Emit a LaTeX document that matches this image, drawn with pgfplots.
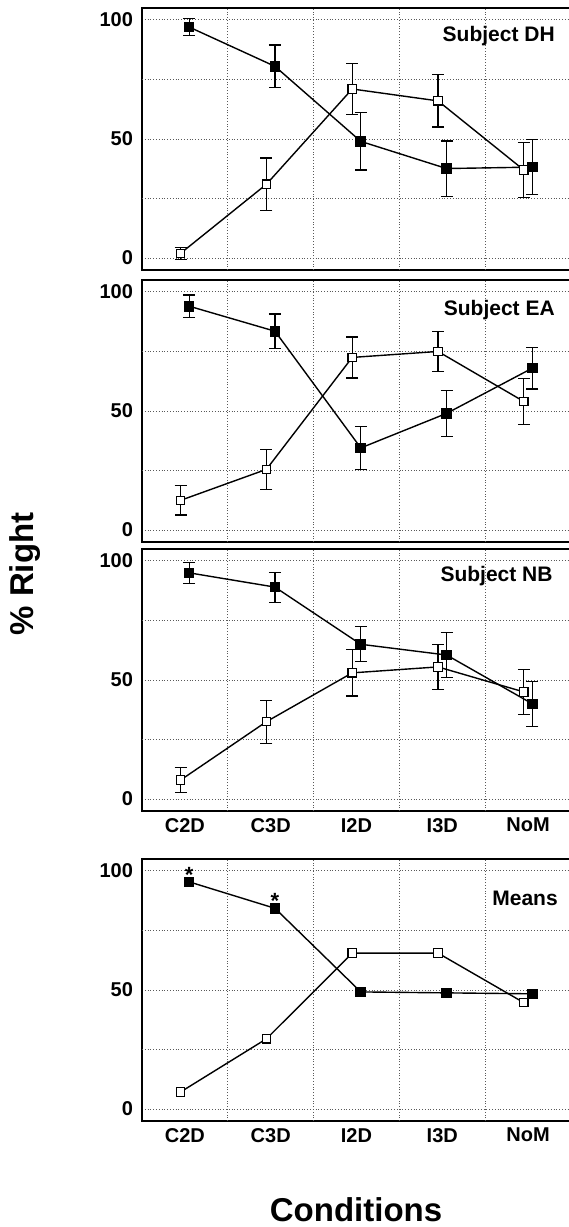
\documentclass[border=0pt]{standalone}
\usepackage{fontspec}
\setmainfont{Liberation Sans}
\usepackage{pgfplots}
\pgfplotsset{compat=1.18}

% one panel of the figure; categories sit at 0.5,1.5,...; grid lines at integers
\pgfplotsset{
  panel/.style={
    scale only axis,
    width=214.5pt, height=131pt,
    anchor=north west,
    xmin=0, xmax=5, ymin=-5, ymax=105,
    xtick={0.5,1.5,2.5,3.5,4.5},
    xticklabels={},
    ytick={0,50,100},
    extra x ticks={1,2,3,4},
    extra x tick labels={},
    extra y ticks={25,75},
    extra y tick labels={},
    extra tick style={grid=major, major tick length=0pt},
    ymajorgrids,
    grid style={densely dotted, black!65, line width=0.5pt},
    major tick length=0pt,
    axis line style={line width=0.6pt},
    tick label style={font=\bfseries\fontsize{10}{12}\selectfont},
    /pgf/number format/assume math mode=true,
    yticklabel style={xshift=-1pt},
    clip=false,
  },
  openser/.style={black, line width=0.7pt, mark=square*, mark size=2.1pt,
    mark options={fill=white, draw=black, line width=0.6pt, solid}},
  fillser/.style={black, line width=0.7pt, mark=square*, mark size=2.3pt,
    mark options={fill=black, draw=black, solid}},
  errb/.style={error bars/.cd, y dir=both, y explicit,
    error bar style={line width=0.6pt, black},
    error mark options={rotate=90, line width=0.6pt, mark size=3pt, black}},
  catlabels/.style={xticklabels={C2D,C3D,I2D,I3D,NoM}},
}
\tikzset{tag/.style={font=\bfseries\fontsize{10.5}{12}\selectfont, anchor=base east, inner sep=0pt}}

\begin{document}
\begin{tikzpicture}
\useasboundingbox (0,0) rectangle (284pt,-613.5pt);

% Subject DH
\begin{axis}[panel, at={(71pt,-4pt)}]
\addplot[openser, errb] coordinates {
  (0.45,2) +- (0,2.5) (1.45,31) +- (0,11) (2.45,71) +- (0,10.6)
  (3.45,66) +- (0,11) (4.45,37) +- (0,11.5)};
\addplot[fillser, errb] coordinates {
  (0.55,97) +- (0,3.5) (1.55,80.5) +- (0,9) (2.55,49) +- (0,12)
  (3.55,37.6) +- (0,11.6) (4.55,38.2) +- (0,11.5)};
\node[tag] at (axis description cs:0.963,0.872) {Subject DH};
\end{axis}

% Subject EA
\begin{axis}[panel, at={(71pt,-140pt)}]
\addplot[openser, errb] coordinates {
  (0.45,12.5) +- (0,6.2) (1.45,25.5) +- (0,8.3) (2.45,72.5) +- (0,8.6)
  (3.45,75) +- (0,8.3) (4.45,54) +- (0,9.7)};
\addplot[fillser, errb] coordinates {
  (0.55,94) +- (0,4.7) (1.55,83.5) +- (0,7.2) (2.55,34.5) +- (0,9.1)
  (3.55,49) +- (0,9.7) (4.55,68) +- (0,8.8)};
\node[tag] at (axis description cs:0.963,0.865) {Subject EA};
\end{axis}

% Subject NB
\begin{axis}[panel, catlabels, at={(71pt,-274.5pt)}]
\addplot[openser, errb] coordinates {
  (0.45,8) +- (0,5.1) (1.45,32.5) +- (0,9) (2.45,53) +- (0,9.7)
  (3.45,55.5) +- (0,9.5) (4.45,45) +- (0,9.5)};
\addplot[fillser, errb] coordinates {
  (0.55,95) +- (0,4.5) (1.55,89) +- (0,6.3) (2.55,65) +- (0,7.3)
  (3.55,60.5) +- (0,9.4) (4.55,40) +- (0,9.4)};
\node[tag] at (axis description cs:0.958,0.877) {Subject NB};
\end{axis}

% Means
\begin{axis}[panel, catlabels, at={(71pt,-429.5pt)}]
\addplot[openser] coordinates {
  (0.45,7.2) (1.45,29.5) (2.45,65.5) (3.45,65.5) (4.45,44.7)};
\addplot[fillser] coordinates {
  (0.55,95.4) (1.55,84.3) (2.55,49.2) (3.55,48.8) (4.55,48.4)};
\addplot[draw=none, nodes near coords={*},
  every node near coord/.append style={font=\bfseries\fontsize{11}{12}\selectfont, inner sep=1pt, yshift=-1.5pt}]
  coordinates {(0.55,95.4) (1.55,84.3)};
\node[tag] at (axis description cs:0.97,0.824) {Means};
\end{axis}

\node[rotate=90, font=\bfseries\fontsize{16.5}{18}\selectfont] at (12.5pt,-287pt) {\% Right};
\node[font=\bfseries\fontsize{16.5}{18}\selectfont] at (178pt,-605pt) {Conditions};
\end{tikzpicture}
\end{document}
